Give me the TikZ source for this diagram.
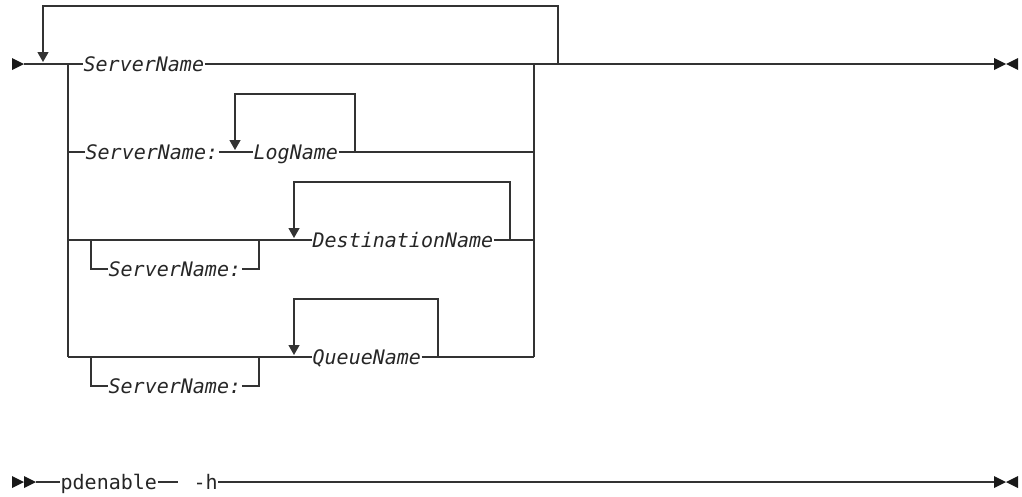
\documentclass[tikz,border=0pt]{standalone}
\usepackage{fontspec}
\setmonofont{DejaVu Sans Mono}
\usetikzlibrary{arrows.meta}

\begin{document}
\begin{tikzpicture}[x=1pt, y=-1pt, line width=1.3pt, draw=black!80,
            var/.style={font=\fontsize{20}{20}\selectfont\ttfamily\itshape, text=black!85, inner sep=0pt, text height=14.4pt, text depth=0pt, anchor=west},
            kw/.style={font=\fontsize{20}{20}\selectfont\ttfamily, text=black!85, inner sep=0pt, text height=14.4pt, text depth=0pt, anchor=west},
            back/.style={-{Triangle[length=10pt, width=11pt]}, shorten >=2pt},
            endmark/.style={fill=black!90, draw=none},
        ]
            \useasboundingbox (0,0) rectangle (1022,496);

            % main line
            \coordinate (start) at (24,64);
            \coordinate (stop) at (994,64);
            \coordinate (lb) at (68,64);
            \coordinate (rb) at (534,64);
            \coordinate (rpt) at (558,64);
            \coordinate (rptin) at (43,64);
            \node[var] (srv) at (83,64) {ServerName};
            \draw (start) -- (srv.west);
            \draw (srv.east) -- (stop);
            \draw[back] (rpt) -- ++(0,-58) -| (rptin);
            \draw (lb) -- ++(0,293);
            \draw (rb) -- ++(0,293);

            % ServerName:LogName
            \node[var] (srvlog) at (85,152) {ServerName:};
            \node[var] (log) at (253,152) {LogName};
            \coordinate (login) at (235,152);
            \coordinate (logout) at (355,152);
            \draw (68,152) -- (srvlog.west);
            \draw (srvlog.east) -- (log.west);
            \draw (log.east) -- (534,152);
            \draw[back] (logout) |- (235,94) -- (login);

            % [ServerName:] DestinationName
            \coordinate (dsplit) at (91,240);
            \coordinate (djoin) at (259,240);
            \node[var] (srvdest) at (108,269) {ServerName:};
            \node[var] (dest) at (312,240) {DestinationName};
            \coordinate (destin) at (294,240);
            \coordinate (destout) at (510,240);
            \draw (68,240) -- (djoin) -- (dest.west);
            \draw (dsplit) |- (srvdest.west);
            \draw (srvdest.east) -| (djoin);
            \draw (dest.east) -- (534,240);
            \draw[back] (destout) |- (294,182) -- (destin);

            % [ServerName:] QueueName
            \coordinate (qsplit) at (91,357);
            \coordinate (qjoin) at (259,357);
            \node[var] (srvq) at (108,386) {ServerName:};
            \node[var] (queue) at (312,357) {QueueName};
            \coordinate (qin) at (294,357);
            \coordinate (qout) at (438,357);
            \draw (68,357) -- (qjoin) -- (queue.west);
            \draw (qsplit) |- (srvq.west);
            \draw (srvq.east) -| (qjoin);
            \draw (queue.east) -- (534,357);
            \draw[back] (qout) |- (294,299) -- (qin);

            % start / end marks
            \fill[endmark] (12,58) -- (24,64) -- (12,70) -- cycle;
            \fill[endmark] (994,58) -- (1006,64) -- (994,70) -- cycle;
            \fill[endmark] (1018,58) -- (1006,64) -- (1018,70) -- cycle;

            % pdenable -h
            \coordinate (bstart) at (36,482);
            \coordinate (bstop) at (994,482);
            \node[kw] (cmd) at (60,482) {pdenable};
            \node[kw] (help) at (193,482) {-h};
            \draw (bstart) -- (cmd.west);
            \draw (cmd.east) -- ++(20,0);
            \draw (help.east) -- (bstop);
            \fill[endmark] (12,476) -- (24,482) -- (12,488) -- cycle;
            \fill[endmark] (24,476) -- (36,482) -- (24,488) -- cycle;
            \fill[endmark] (994,476) -- (1006,482) -- (994,488) -- cycle;
            \fill[endmark] (1018,476) -- (1006,482) -- (1018,488) -- cycle;
        \end{tikzpicture}
\end{document}
